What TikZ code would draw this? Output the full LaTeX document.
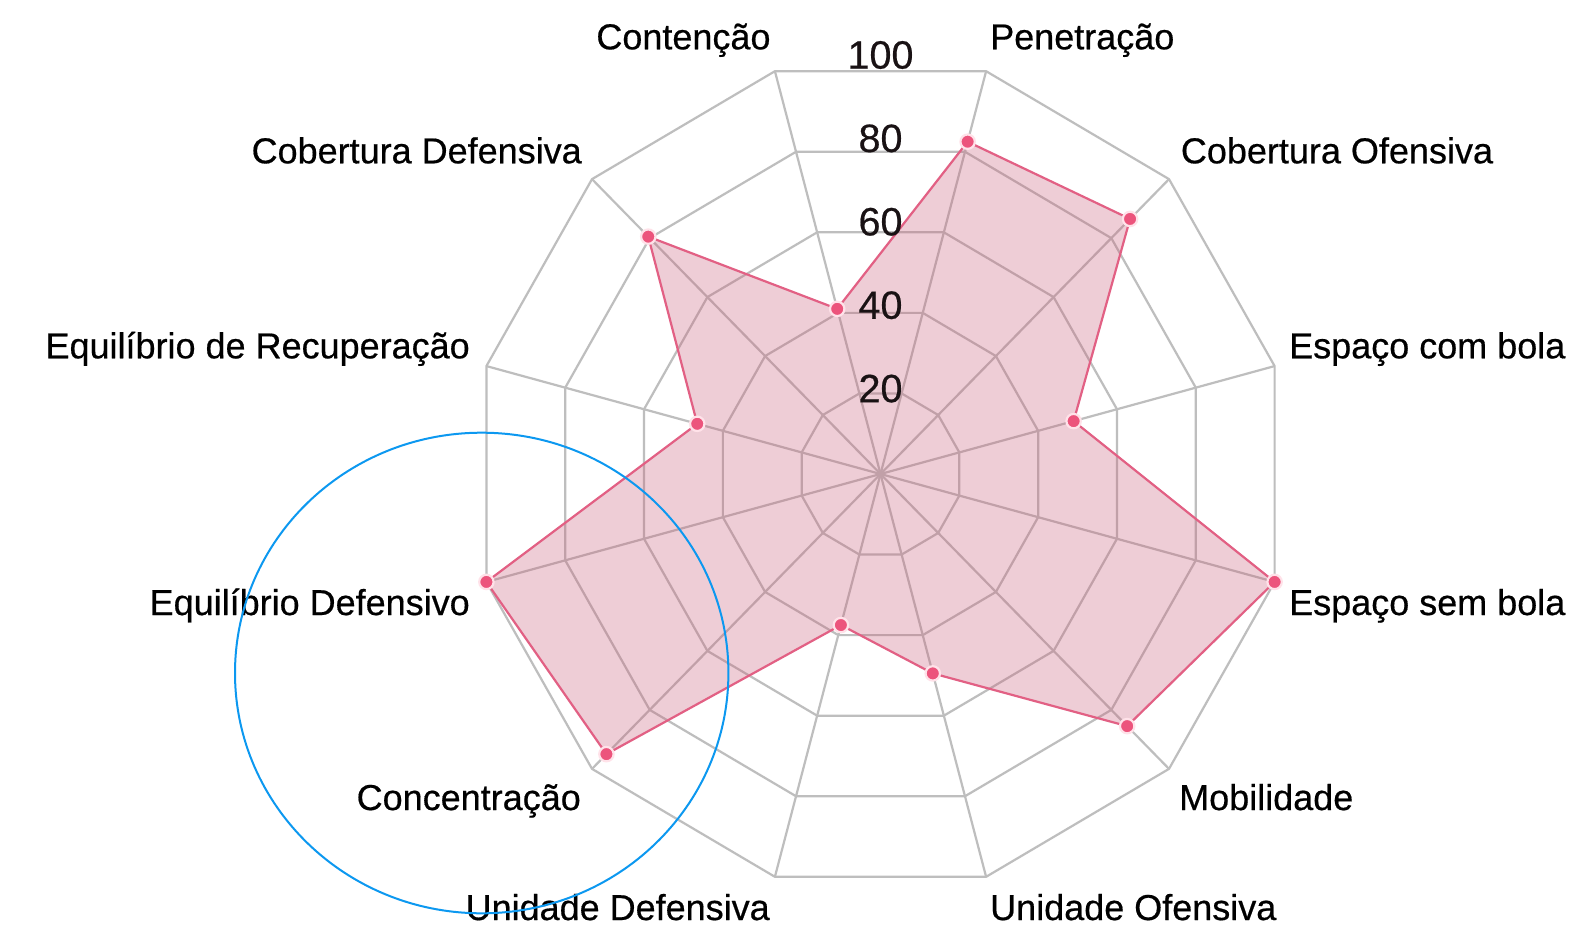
\documentclass[tikz,border=0pt]{standalone}
\usepackage{fontspec}
\setmainfont[FakeBold=0.5]{Liberation Sans}
\definecolor{gridgray}{RGB}{190,190,190}
\definecolor{radarfillc}{RGB}{200,92,120}
\definecolor{radarlinec}{RGB}{226,96,132}
\definecolor{ptfill}{RGB}{236,84,124}
\definecolor{ptborder}{RGB}{255,226,233}
\definecolor{bluec}{RGB}{12,152,240}
\definecolor{numc}{RGB}{25,18,20}
\tikzset{
  gridline/.style={draw=gridgray, line width=2.2pt, line join=round},
  radarfill/.style={fill=radarfillc, fill opacity=0.3},
  radarline/.style={draw=radarlinec, line width=2.2pt, line join=round},
  ptstyle/.style={fill=ptfill, draw=ptborder, line width=2.2pt},
  lbl/.style={inner sep=0pt, text=black, font=\fontsize{36}{43}\selectfont},
  numlbl/.style={inner sep=0pt, text=numc, font=\fontsize{39.5}{47}\selectfont},
  bluering/.style={draw=bluec, line width=2pt}
}
\def\cx{880.5}
\def\cy{474}
\def\rx{408}
\def\ry{417}
\begin{document}
\begin{tikzpicture}[x=1pt,y=-1pt]
\useasboundingbox[fill=white] (0,0) rectangle (1584,928);
\coordinate (c) at (\cx,\cy);
% grid rings
\foreach \v in {20,40,60,80,100}{
  \draw[gridline] plot[samples at={15,45,...,345}] ({\cx+(\v/100)*\rx*cos(\x)},{\cy-(\v/100)*\ry*sin(\x)}) -- cycle;
}
% spokes
\foreach \a in {15,45,...,345}{
  \coordinate (s\a) at ({\cx+\rx*cos(\a)},{\cy-\ry*sin(\a)});
  \draw[gridline] (c) -- (s\a);
}
% data points
\foreach \a/\v/\n in {75/82.5/p1, 45/86.5/p2, 15/49/p3, -15/100/p4, -45/85.5/p5, -75/49.5/p6, -105/37.5/p7, -135/95/p8, -165/100/p9, 165/46.5/p10, 135/80.5/p11, 105/41/p12}{
  \coordinate (\n) at ({\cx+(\v/100)*\rx*cos(\a)},{\cy-(\v/100)*\ry*sin(\a)});
}
\fill[radarfill] (p1) -- (p2) -- (p3) -- (p4) -- (p5) -- (p6) -- (p7) -- (p8) -- (p9) -- (p10) -- (p11) -- (p12) -- cycle;
\draw[radarline] (p1) -- (p2) -- (p3) -- (p4) -- (p5) -- (p6) -- (p7) -- (p8) -- (p9) -- (p10) -- (p11) -- (p12) -- cycle;
% scale numbers
\foreach \v/\n in {20/t20,40/t40,60/t60,80/t80,100/t100}{
  \node[numlbl] (\n) at (\cx,{\cy-(\v/100)*\ry-2}) {\v};
}
% points
\foreach \n in {p1,p2,p3,p4,p5,p6,p7,p8,p9,p10,p11,p12}{
  \draw[ptstyle] (\n) circle (7.2);
}
% axis labels
\node[lbl, anchor=base east] (lcont) at (770.7,49.3) {Contenção};
\node[lbl, anchor=base west] (lpen) at (990,49.3) {Penetração};
\node[lbl, anchor=base east] (lcobd) at (582,163.3) {Cobertura Defensiva};
\node[lbl, anchor=base west] (lcobo) at (1180.7,163.3) {Cobertura Ofensiva};
\node[lbl, anchor=base east] (leqr) at (470,358.3) {Equilíbrio de Recuperação};
\node[lbl, anchor=base west] (lecb) at (1289,358.3) {Espaço com bola};
\node[lbl, anchor=base east] (leqd) at (470,615) {Equilíbrio Defensivo};
\node[lbl, anchor=base west] (lesb) at (1289,615) {Espaço sem bola};
\node[lbl, anchor=base east] (lconc) at (581,810) {Concentração};
\node[lbl, anchor=base west] (lmob) at (1179,810) {Mobilidade};
\node[lbl, anchor=base east] (lund) at (770,920) {Unidade Defensiva};
\node[lbl, anchor=base west] (luno) at (990,920) {Unidade Ofensiva};
% blue annotation ring
\draw[bluering] (481.7,673) ellipse [x radius=246.7, y radius=240.3];
\end{tikzpicture}
\end{document}
